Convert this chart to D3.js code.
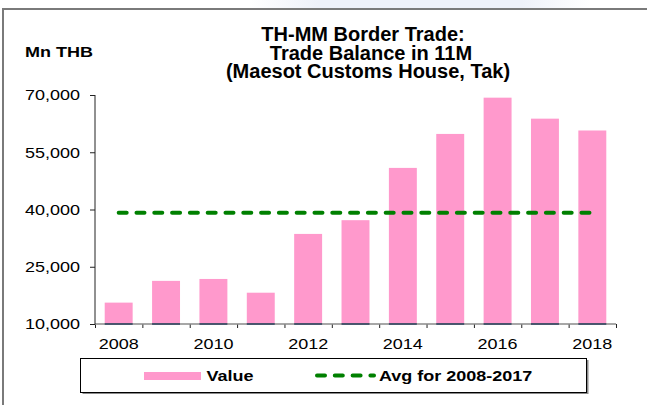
<!DOCTYPE html>
<html>
<head>
<meta charset="utf-8">
<script src="https://cdn.jsdelivr.net/npm/d3@7"></script>
<style>
  html, body { margin: 0; padding: 0; background: #fff; }
  svg { display: block; font-family: "Liberation Sans", Arial, sans-serif; }
</style>
</head>
<body>
<svg id="chart" width="647" height="405"></svg>
<script>
// Trade balance through Maesot Customs House (Mn THB), first 11 months of each year
const years = [2008, 2009, 2010, 2011, 2012, 2013, 2014, 2015, 2016, 2017, 2018];
const values = [15600, 21300, 21800, 18200, 33600, 37200, 50900, 59800, 69300, 63800, 60700];
const yTicks = [10000, 25000, 40000, 55000, 70000];
const titleLines = ["TH-MM Border Trade:", "Trade Balance in 11M", "(Maesot Customs House, Tak)"];
const unitLabel = "Mn THB";
const legendLabels = ["Value", "Avg for 2008-2017"];

// average over 2008-2017
const avgYears = years.filter(y => y <= 2017);
const avgValue = d3.mean(avgYears.map(y => values[years.indexOf(y)]));

const pink = "#FF99CC";
const green = "#008000";
const svg = d3.select("#chart");

// faint backdrop strip above the frame
const defs = svg.append("defs");
const grad = defs.append("linearGradient").attr("id", "haze");
grad.append("stop").attr("offset", "0").attr("stop-color", "#eef1f9").attr("stop-opacity", 0);
grad.append("stop").attr("offset", "0.2").attr("stop-color", "#eef1f9").attr("stop-opacity", 1);
grad.append("stop").attr("offset", "0.8").attr("stop-color", "#eef1f9").attr("stop-opacity", 1);
grad.append("stop").attr("offset", "1").attr("stop-color", "#eef1f9").attr("stop-opacity", 0);
svg.append("rect").attr("x", 250).attr("y", 0).attr("width", 340).attr("height", 8)
  .attr("fill", "url(#haze)");

// frame
svg.append("line").attr("x1", 3).attr("x2", 647).attr("y1", 9).attr("y2", 9)
  .attr("stroke", "#7a7a7a").attr("stroke-width", 2);
svg.append("line").attr("x1", 3).attr("x2", 3).attr("y1", 8).attr("y2", 405)
  .attr("stroke", "#7a7a7a").attr("stroke-width", 2);

// scales
const plot = { left: 95, right: 616, top: 95, bottom: 324 };
const xCat = d3.scaleBand().domain(years).range([plot.left, plot.right]).padding(0);
const xBar = d3.scaleBand().domain(years).range([plot.left, plot.right])
  .paddingInner(0.41).paddingOuter(0.205);
const y = d3.scaleLinear().domain([10000, 70000]).range([plot.bottom, plot.top]);
const xEdge = d3.scaleLinear().domain([0, years.length]).range([plot.left, plot.right]);

const stretch = "scale(1.2,1)";

// bars
svg.append("g").selectAll("rect").data(years).join("rect")
  .attr("x", d => xBar(d))
  .attr("width", xBar.bandwidth())
  .attr("y", (d, i) => y(values[i]))
  .attr("height", (d, i) => y(10000) - y(values[i]))
  .attr("fill", pink);

// x axis: boundary ticks
const xAxisG = svg.append("g").attr("transform", `translate(0,${plot.bottom})`)
  .call(d3.axisBottom(xEdge).tickValues(d3.range(years.length + 1)).tickSize(4).tickFormat(""));
xAxisG.select(".domain").remove();
xAxisG.selectAll(".tick line").attr("stroke", "#222");
svg.append("line").attr("x1", plot.left).attr("x2", plot.right)
  .attr("y1", plot.bottom).attr("y2", plot.bottom)
  .attr("stroke", "#8a8a8a").attr("stroke-width", 1.5);

// bar bases
svg.append("g").selectAll("line").data(years).join("line")
  .attr("x1", d => xBar(d)).attr("x2", d => xBar(d) + xBar.bandwidth())
  .attr("y1", plot.bottom).attr("y2", plot.bottom)
  .attr("stroke", "#2b3f5c").attr("stroke-width", 1.5);

// x axis labels (every other year)
const xLab = svg.append("g").attr("transform", `translate(0,${plot.bottom})`)
  .call(d3.axisBottom(xCat).tickSize(0).tickFormat(d => d % 2 === 0 ? d : ""));
xLab.select(".domain").remove();
xLab.selectAll("text")
  .attr("y", 0).attr("dy", 0)
  .attr("transform", `translate(0,25) ${stretch}`)
  .attr("font-size", 15).attr("fill", "#000")
  .attr("font-family", "Liberation Sans, Arial, sans-serif");

// y axis
const yAxisG = svg.append("g").attr("transform", `translate(${plot.left},0)`)
  .call(d3.axisLeft(y).tickValues(yTicks).tickSize(5).tickFormat(d3.format(",")));
yAxisG.select(".domain").attr("stroke", "#222").attr("d", `M0,${plot.top}V${plot.bottom}`);
yAxisG.selectAll(".tick line").attr("stroke", "#222");
yAxisG.selectAll("text")
  .attr("x", 0)
  .attr("transform", `translate(-15,0) ${stretch}`)
  .attr("font-size", 15).attr("fill", "#000")
  .attr("font-family", "Liberation Sans, Arial, sans-serif");

// average line, spanning first to last category centre
const avgLine = d3.line().x(d => d[0]).y(d => d[1]);
svg.append("path")
  .attr("d", avgLine([
    [xCat(years[0]) + xCat.bandwidth() / 2, y(avgValue)],
    [xCat(years[years.length - 1]) + xCat.bandwidth() / 2, y(avgValue)]
  ]))
  .attr("fill", "none").attr("stroke", green).attr("stroke-width", 4)
  .attr("stroke-linecap", "round").attr("stroke-dasharray", "8 9.8");

// title: one text block, three centred lines
const titleX = [363, 371, 368];
const titleY = [41, 59.5, 78];
svg.append("text")
  .attr("text-anchor", "middle").attr("font-size", 20).attr("font-weight", "bold")
  .attr("fill", "#000")
  .selectAll("tspan").data(titleLines).join("tspan")
  .attr("x", (d, i) => titleX[i]).attr("y", (d, i) => titleY[i])
  .text(d => d);

svg.append("text").attr("transform", `translate(25,56.5) ${stretch}`)
  .attr("font-size", 15).attr("font-weight", "bold").attr("fill", "#000").text(unitLabel);

// legend
const lg = svg.append("g");
lg.append("rect").attr("x", 82.5).attr("y", 360).attr("width", 506).attr("height", 34)
  .attr("fill", "#8a8a8a");
lg.append("rect").attr("x", 80.5).attr("y", 358.5).attr("width", 506).attr("height", 34)
  .attr("fill", "#fff").attr("stroke", "#000").attr("stroke-width", 1);
lg.append("rect").attr("x", 144).attr("y", 372).attr("width", 57).attr("height", 8).attr("fill", pink);
lg.append("text").attr("transform", `translate(206.5,381) ${stretch}`)
  .attr("font-size", 15).attr("font-weight", "bold").attr("fill", "#000").text(legendLabels[0]);
lg.append("line").attr("x1", 317).attr("x2", 374).attr("y1", 375.5).attr("y2", 375.5)
  .attr("stroke", green).attr("stroke-width", 4).attr("stroke-linecap", "round")
  .attr("stroke-dasharray", "8 9.8");
lg.append("text").attr("transform", `translate(379,381) ${stretch}`)
  .attr("font-size", 15).attr("font-weight", "bold").attr("fill", "#000").text(legendLabels[1]);
</script>
</body>
</html>
